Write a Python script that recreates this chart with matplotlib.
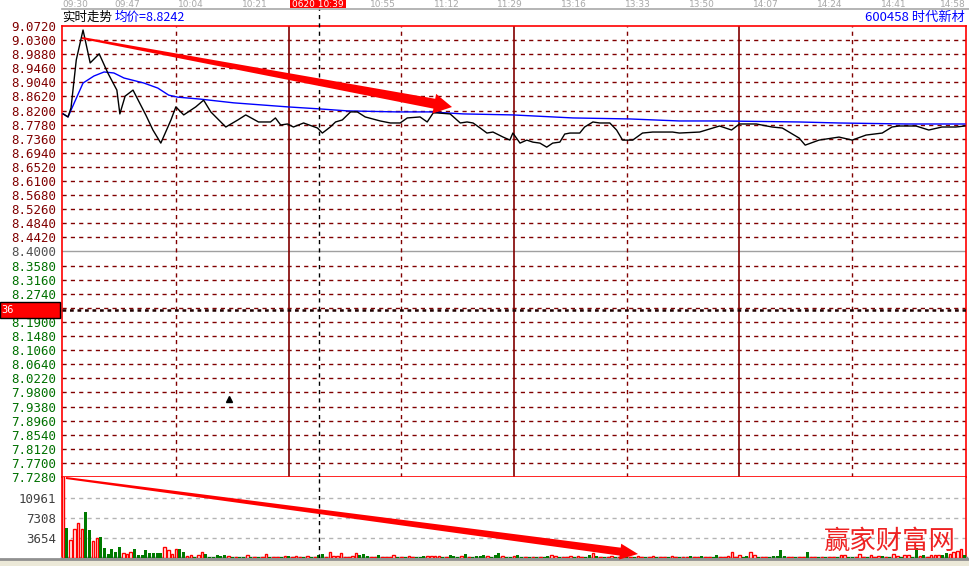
import math
import matplotlib
matplotlib.use("Agg")
import matplotlib.pyplot as plt
from matplotlib.patches import Rectangle, Polygon
from matplotlib.transforms import blended_transform_factory

plt.rcParams['font.family'] = ['DejaVu Sans', 'Noto Sans CJK SC']
CJK = ['Noto Sans CJK SC', 'DejaVu Sans']

W, H = 969, 566

# intraday price (minute index since 09:30, lunch break removed)
price_t = [0, 1.3, 2.1, 3.5, 5.3, 7.2, 9.6, 11.9, 14.3, 15.1, 16.5, 18.6, 22, 23.9,
           26, 28.7, 30, 32.1, 35.3, 37.4, 39.3, 43.3, 46.5, 48.6, 52, 55.2, 56.5,
           57.9, 59.7, 61.3, 64, 67.7, 69, 71.1, 72.5, 74.3, 76.5, 78.3, 80.4, 84.4,
           87.1, 89.7, 91.6, 95, 96.9, 98.5, 99.5, 103, 105.7, 107.5, 109.1, 111,
           112.8, 114.4, 117.1, 118.9, 119.7, 121.6, 123.4, 125, 126.9, 128.7, 130.3,
           132.2, 133.5, 134.9, 137.5, 138.8, 141, 142.8, 145.5, 147.3, 148.9, 151.6,
           154.2, 156.9, 162.2, 164, 169.4, 174.7, 177.9, 180, 184.5, 188.7, 191.4,
           195.9, 197.5, 201.2, 206.5, 210, 213.7, 218, 220.6, 222.5, 227, 230.4,
           233.9, 237.6, 240]
price_v = [8.810, 8.801, 8.828, 8.971, 9.060, 8.962, 8.989, 8.932, 8.881, 8.810,
           8.863, 8.881, 8.807, 8.762, 8.723, 8.792, 8.831, 8.807, 8.831, 8.851,
           8.816, 8.771, 8.792, 8.807, 8.786, 8.786, 8.798, 8.777, 8.780, 8.771,
           8.783, 8.768, 8.753, 8.771, 8.786, 8.792, 8.816, 8.816, 8.801, 8.789,
           8.783, 8.783, 8.798, 8.801, 8.786, 8.813, 8.813, 8.810, 8.783, 8.786,
           8.783, 8.768, 8.753, 8.756, 8.741, 8.732, 8.753, 8.723, 8.732, 8.726,
           8.723, 8.711, 8.723, 8.726, 8.750, 8.753, 8.753, 8.771, 8.786, 8.783,
           8.783, 8.762, 8.732, 8.732, 8.753, 8.756, 8.756, 8.753, 8.756, 8.774,
           8.762, 8.780, 8.780, 8.771, 8.768, 8.738, 8.717, 8.732, 8.741, 8.732,
           8.747, 8.753, 8.771, 8.774, 8.774, 8.762, 8.771, 8.771, 8.774]

# average price line
avg_t = [0, 1.3, 5.3, 8.2, 10.9, 13.5, 16.2, 21.5, 25.2, 28.1, 30.5, 36.6, 45.4,
         59.7, 68.2, 75.7, 88.9, 97.7, 106.5, 119.7, 135.7, 150.8, 164, 175.5,
         195.9, 206.5, 224.3, 240]
avg_v = [8.810, 8.801, 8.902, 8.923, 8.935, 8.932, 8.917, 8.902, 8.887, 8.866,
         8.860, 8.854, 8.843, 8.831, 8.825, 8.819, 8.816, 8.816, 8.810, 8.807,
         8.798, 8.795, 8.789, 8.789, 8.786, 8.783, 8.780, 8.780]

# per-minute volume and direction (1 = up/red, 0 = down/green)
vol = [15000, 5481, 3343, 5298, 6394, 5353, 8331, 5170, 3160, 3709,
       3891, 1754, 786, 1644, 1151, 2065, 968, 731, 1151, 1644,
       603, 603, 1388, 840, 840, 968, 968, 1937, 1388, 731,
       1571, 1571, 1023, 365, 603, 238, 603, 1023, 731, 200,
       200, 603, 365, 603, 365, 200, 250, 200, 200, 600,
       250, 200, 200, 250, 650, 250, 200, 250, 200, 300,
       400, 200, 300, 250, 200, 300, 250, 200, 600, 650,
       200, 1023, 300, 300, 850, 200, 250, 400, 850, 600,
       800, 350, 200, 250, 600, 200, 200, 250, 600, 200,
       250, 200, 300, 200, 250, 200, 300, 300, 300, 300,
       300, 200, 250, 600, 350, 200, 300, 800, 250, 200,
       400, 400, 600, 350, 200, 600, 850, 300, 200, 200,
       400, 600, 200, 200, 250, 200, 200, 250, 250, 300,
       600, 300, 200, 200, 250, 300, 200, 300, 250, 200,
       600, 968, 300, 200, 250, 200, 300, 250, 200, 300,
       200, 250, 200, 300, 200, 250, 200, 300, 250, 200,
       250, 200, 300, 200, 250, 200, 250, 300, 200, 250,
       400, 200, 250, 200, 500, 200, 250, 300, 1023, 250,
       603, 200, 400, 1023, 600, 200, 250, 200, 250, 400,
       300, 1400, 400, 200, 250, 200, 250, 200, 1100, 200,
       250, 200, 200, 250, 200, 250, 200, 600, 600, 200,
       250, 200, 750, 200, 250, 600, 250, 400, 400, 200,
       250, 750, 400, 200, 600, 600, 250, 1800, 400, 600,
       250, 600, 600, 600, 600, 1000, 750, 1100, 1300, 1600,
       600]
up = [1, 0, 1, 1, 1, 1, 0, 0, 1, 1,
      0, 0, 0, 0, 0, 0, 1, 1, 1, 0,
      0, 0, 0, 0, 0, 0, 0, 1, 1, 1,
      1, 0, 0, 1, 1, 0, 1, 1, 0, 0,
      0, 0, 0, 0, 1, 0, 1, 0, 0, 1,
      0, 1, 0, 1, 1, 0, 1, 1, 0, 1,
      0, 1, 1, 1, 0, 1, 0, 1, 0, 0,
      1, 1, 1, 1, 1, 1, 1, 1, 1, 0,
      0, 0, 1, 1, 0, 1, 1, 1, 1, 0,
      1, 0, 1, 1, 0, 0, 0, 1, 1, 1,
      1, 0, 1, 0, 0, 0, 1, 0, 1, 0,
      0, 0, 0, 1, 0, 0, 0, 1, 0, 0,
      1, 0, 0, 1, 0, 1, 0, 1, 0, 0,
      1, 1, 0, 1, 1, 1, 0, 1, 1, 0,
      0, 1, 0, 1, 0, 1, 1, 0, 1, 0,
      0, 1, 0, 1, 1, 0, 1, 1, 0, 1,
      1, 0, 1, 1, 0, 1, 1, 0, 1, 1,
      0, 1, 1, 0, 0, 1, 1, 1, 1, 1,
      1, 0, 0, 1, 1, 0, 1, 1, 0, 0,
      0, 0, 0, 1, 1, 0, 1, 1, 0, 1,
      1, 0, 1, 0, 1, 1, 0, 1, 1, 0,
      0, 1, 1, 1, 0, 1, 1, 1, 0, 1,
      0, 1, 1, 0, 1, 1, 0, 0, 1, 0,
      1, 1, 1, 1, 0, 0, 1, 1, 1, 1,
      0]

time_labels = ['09:30', '09:47', '10:04', '10:21', '10:55', '11:12', '11:29',
               '13:16', '13:33', '13:50', '14:07', '14:24', '14:41', '14:58']
time_pos = [0, 17, 34, 51, 85, 102, 119, 136, 153, 170, 187, 204, 221, 238]

prev_close = 8.40
price_ticks = [round(7.728 + 0.042 * k, 4) for k in range(33)]
vol_ticks = [3654, 7308, 10961]
cursor_t = 68
cursor_price = 8.2255


def fx(px):
    return px / W


def fy(py):
    return 1 - py / H


def arrow(fig, x0, y0, x1, y1, w0, w1, hw, hl):
    # tapered hand-drawn style arrow, pixel coords from top-left
    L = math.hypot(x1 - x0, y1 - y0)
    ux, uy = (x1 - x0) / L, (y1 - y0) / L
    nx, ny = -uy, ux
    bx, by = x1 - ux * hl, y1 - uy * hl
    pts = [(x0 + nx * w0 / 2, y0 + ny * w0 / 2),
           (bx + nx * w1 / 2, by + ny * w1 / 2),
           (bx + nx * hw / 2, by + ny * hw / 2),
           (x1, y1),
           (bx - nx * hw / 2, by - ny * hw / 2),
           (bx - nx * w1 / 2, by - ny * w1 / 2),
           (x0 - nx * w0 / 2, y0 - ny * w0 / 2)]
    fig.patches.append(Polygon([(fx(a), fy(b)) for a, b in pts], closed=True,
                               transform=fig.transFigure, facecolor='#ff0000',
                               edgecolor='none', zorder=20))


fig = plt.figure(figsize=(W / 100, H / 100), dpi=100)
fig.patch.set_facecolor('white')

dark_red = '#800000'

# ---- price panel
ax = fig.add_axes([fx(62), fy(477), 904 / W, 451 / H])
ax.set_xlim(-0.3, 240.3)
ax.set_ylim(7.728, 9.072)
for s in ax.spines.values():
    s.set_color('#ff0000')
    s.set_linewidth(1.2)
ax.set_xticks([])
ax.set_yticks(price_ticks)
ax.set_yticklabels(['%.4f' % p for p in price_ticks], fontsize=9,
                   family='DejaVu Sans Mono')
ax.tick_params(axis='y', length=0, pad=4)
for lab, p in zip(ax.get_yticklabels(), price_ticks):
    if abs(p - prev_close) < 1e-6:
        lab.set_color('#505050')
    elif p > prev_close:
        lab.set_color(dark_red)
    else:
        lab.set_color('#007000')

for p in price_ticks[1:-1]:
    if abs(p - prev_close) < 1e-6:
        ax.axhline(p, color='#a0a0a0', lw=1, zorder=1)
    else:
        ax.axhline(p, color=dark_red, lw=1, ls=(0, (3, 3)), zorder=1)
for t in [30, 90, 150, 210]:
    ax.axvline(t, color=dark_red, lw=1, ls=(0, (3, 3)), zorder=1)
for t in [60, 120, 180]:
    ax.axvline(t, color=dark_red, lw=1.2, zorder=1)

ax.plot(avg_t, avg_v, color='#0000ff', lw=1, zorder=3)
ax.plot(price_t, price_v, color='black', lw=1, zorder=4)

# cursor
ax.axhline(cursor_price, color='#200000', lw=1.8, ls=(0, (1.5, 1.5)), zorder=5)
ax.axvline(cursor_t, ymin=0, ymax=1 + 18 / 451, color='black', lw=1,
           ls=(0, (3, 3)), zorder=5, clip_on=False)
ax.plot([44.1], [7.960], marker='^', color='black', markersize=4, zorder=6)

# time labels along the top
top_tr = blended_transform_factory(ax.transData, fig.transFigure)
for lab, t in zip(time_labels, time_pos):
    ha = 'left' if t == 0 else 'center'
    xx = -0.3 if t == 0 else t
    ha = 'right' if t == 238 else ha
    xx = 240.3 if t == 238 else xx
    ax.text(xx, fy(4.2), lab, transform=top_tr, fontsize=6.5, color='#a8a8a8',
            ha=ha, va='center', clip_on=False)

# ---- volume panel
vax = fig.add_axes([fx(62), fy(558), 904 / W, 81 / H])
vax.set_xlim(-0.3, 240.3)
vax.set_ylim(0, 14800)
vax.spines['top'].set_visible(False)
for k in ['left', 'right']:
    vax.spines[k].set_color('#ff0000')
    vax.spines[k].set_linewidth(1.2)
vax.spines['bottom'].set_color('#909090')
vax.spines['bottom'].set_linewidth(2.5)
vax.set_xticks([])
vax.set_yticks(vol_ticks)
vax.set_yticklabels([str(v) for v in vol_ticks], fontsize=9, color='#404040',
                    family='DejaVu Sans Mono')
vax.tick_params(axis='y', length=0, pad=4)
for v in vol_ticks:
    vax.axhline(v, color='#b4b4b4', lw=1, ls=(0, (3, 3)), zorder=1)

xs = list(range(len(vol)))
up_x = [i for i in xs if up[i]]
dn_x = [i for i in xs if not up[i]]
vax.bar(up_x, [vol[i] for i in up_x], width=0.68, facecolor='white',
        edgecolor='#ff0000', linewidth=1.0, zorder=3)
vax.bar(dn_x, [vol[i] for i in dn_x], width=0.8, color='#007a00', zorder=3)
vax.axvline(cursor_t, color='black', lw=1, ls=(0, (3, 3)), zorder=5)

# ---- header texts
fig.lines.append(plt.Line2D([fx(62), 1], [fy(8.5), fy(8.5)], transform=fig.transFigure,
                            color='#a8a8a8', lw=1.2))
fig.patches.append(Rectangle((fx(290), fy(8)), 56 / W, 8 / H, transform=fig.transFigure,
                             facecolor='#ff0000', edgecolor='none', zorder=8))
fig.text(fx(318), fy(4.2), '0620 10:39', color='white', fontsize=6.5, ha='center',
         va='center', zorder=9)
fig.text(fx(62), fy(17), '实时走势', family=CJK, fontsize=9, color='black',
         ha='left', va='center')
fig.text(fx(115), fy(17), '均价=8.8242', family=CJK, fontsize=9, color='#0000ff',
         ha='left', va='center')
fig.text(fx(965), fy(17), '600458 时代新材', family=CJK, fontsize=9.5, color='#0000ff',
         ha='right', va='center')

# cursor price box at left edge (only the last digits of the price are in view)
fig.patches.append(Rectangle((fx(0), fy(318)), 60 / W, 16 / H, transform=fig.transFigure,
                             facecolor='#ff0000', edgecolor='black', lw=1, zorder=8))
fig.text(fx(1), fy(310), '36', color='white', fontsize=7.5, ha='left',
         va='center', zorder=9, family='DejaVu Sans Mono')

# bottom status bar
fig.patches.append(Rectangle((0, 0), 1, 6 / H, transform=fig.transFigure,
                             facecolor='#ece9d8', edgecolor='none', zorder=1))
fig.lines.append(plt.Line2D([0, 1], [fy(559), fy(559)], transform=fig.transFigure,
                            color='#909090', lw=2))

# annotation arrows
arrow(fig, 82, 38, 452, 107, 2, 10, 20, 18)
arrow(fig, 66, 478, 638, 554, 2, 8, 16, 18)

# watermark
fig.text(fx(890), fy(541), '赢家财富网', family=CJK, fontsize=19, color='#ee2222',
         ha='center', va='center', fontweight='light', zorder=12)

fig.savefig('out.png', dpi=100)
